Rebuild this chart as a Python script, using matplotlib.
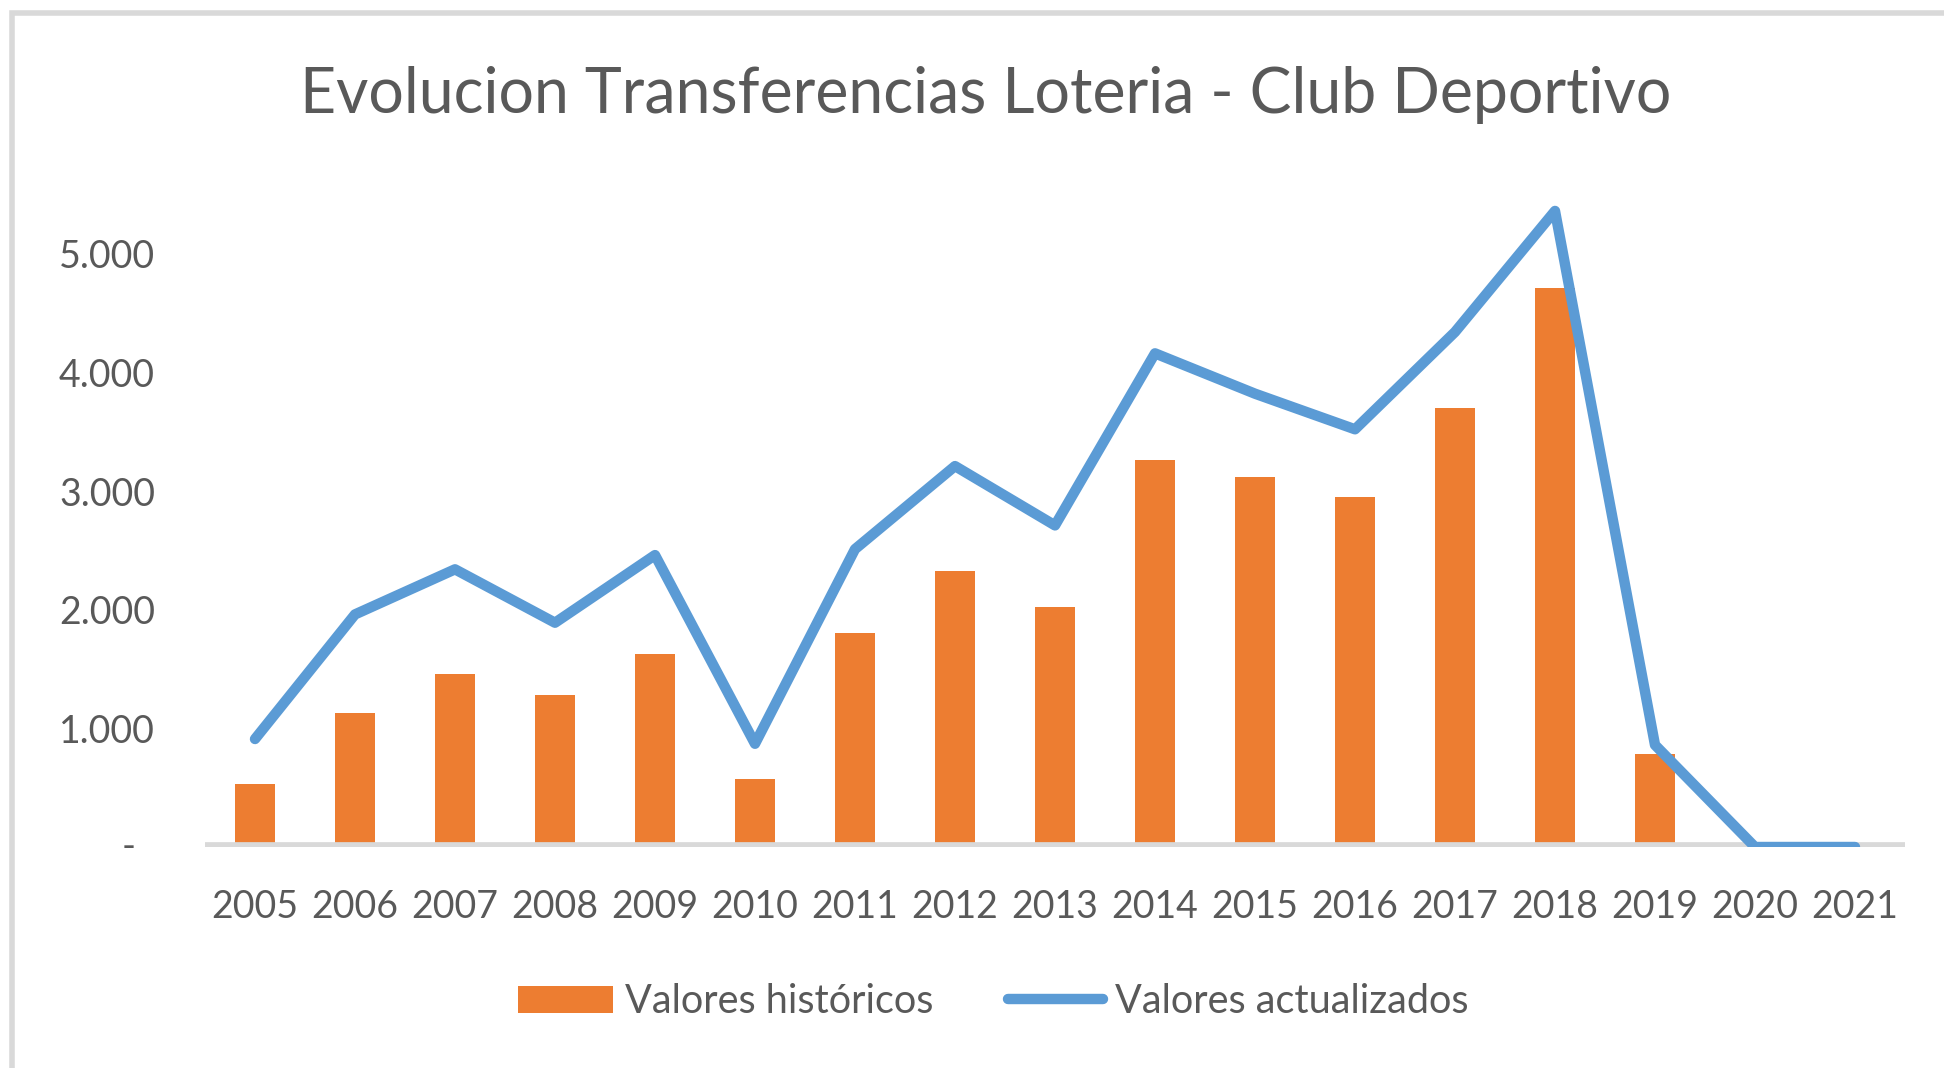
import matplotlib
matplotlib.use('Agg')

import matplotlib.pyplot as plt
from matplotlib.patches import Rectangle
from matplotlib.ticker import FuncFormatter

plt.rcParams['font.family'] = ['Lato', 'DejaVu Sans']

# Data
years = ['2005', '2006', '2007', '2008', '2009', '2010', '2011', '2012', '2013',
         '2014', '2015', '2016', '2017', '2018', '2019', '2020', '2021']
historicos = [530, 1130, 1460, 1280, 1630, 575, 1800, 2330, 2020,
              3260, 3120, 2950, 3700, 4710, 785, 0, 0]
actualizados = [910, 1960, 2340, 1890, 2460, 870, 2510, 3210, 2710,
                4160, 3820, 3520, 4340, 5360, 860, 0, 0]
y_ticks = [0, 1000, 2000, 3000, 4000, 5000]

text_color = '#595959'
orange = '#ed7d31'
blue = '#5b9bd5'

fig = plt.figure(figsize=(19.44, 10.68), dpi=100)

# light grey chart frame (only top and left visible in the reference)
fig.add_artist(Rectangle((12 / 1944, -0.1), 1.2, 1 - 13 / 1068 + 0.1,
                         transform=fig.transFigure, fill=False,
                         edgecolor='#d9d9d9', linewidth=4))

ax = fig.add_axes([205 / 1944, 1 - 847 / 1068, 1700 / 1944, 712 / 1068])

x = list(range(len(years)))
bars = ax.bar(x, historicos, width=0.4, color=orange, zorder=2)
ax.axhline(0, color='#d9d9d9', linewidth=7, zorder=3)
line, = ax.plot(x, actualizados, color=blue, linewidth=7.5, solid_joinstyle='round',
                solid_capstyle='round', zorder=4)

ax.set_xlim(-0.5, len(years) - 0.5)
ax.set_ylim(0, 6000)
ax.set_xticks(x)
ax.set_xticklabels(years)
ax.set_yticks(y_ticks)
ax.yaxis.set_major_formatter(FuncFormatter(
    lambda v, p: '' if v == 0 else f'{int(v):,}'.replace(',', '.')))
# Excel accounting format shows zero as a dash
ax.text(-0.045, 0, '-', transform=ax.get_yaxis_transform(), ha='center',
        va='center', fontsize=27, color=text_color)

ax.tick_params(axis='both', length=0, labelsize=27, colors=text_color)
ax.tick_params(axis='y', pad=36)
ax.tick_params(axis='x', pad=30)
for s in ax.spines.values():
    s.set_visible(False)

fig.text(0.507, 0.911, 'Evolucion Transferencias Loteria - Club Deportivo',
         ha='center', va='center', fontsize=45, color=text_color)

fig.legend([bars, line], ['Valores históricos', 'Valores actualizados'],
           loc='center', bbox_to_anchor=(0.511, 0.062), ncol=2, frameon=False,
           fontsize=28.5, labelcolor=text_color, handlelength=2.4,
           handletextpad=0.3, columnspacing=1.9)

fig.savefig('out.png', dpi=100)
